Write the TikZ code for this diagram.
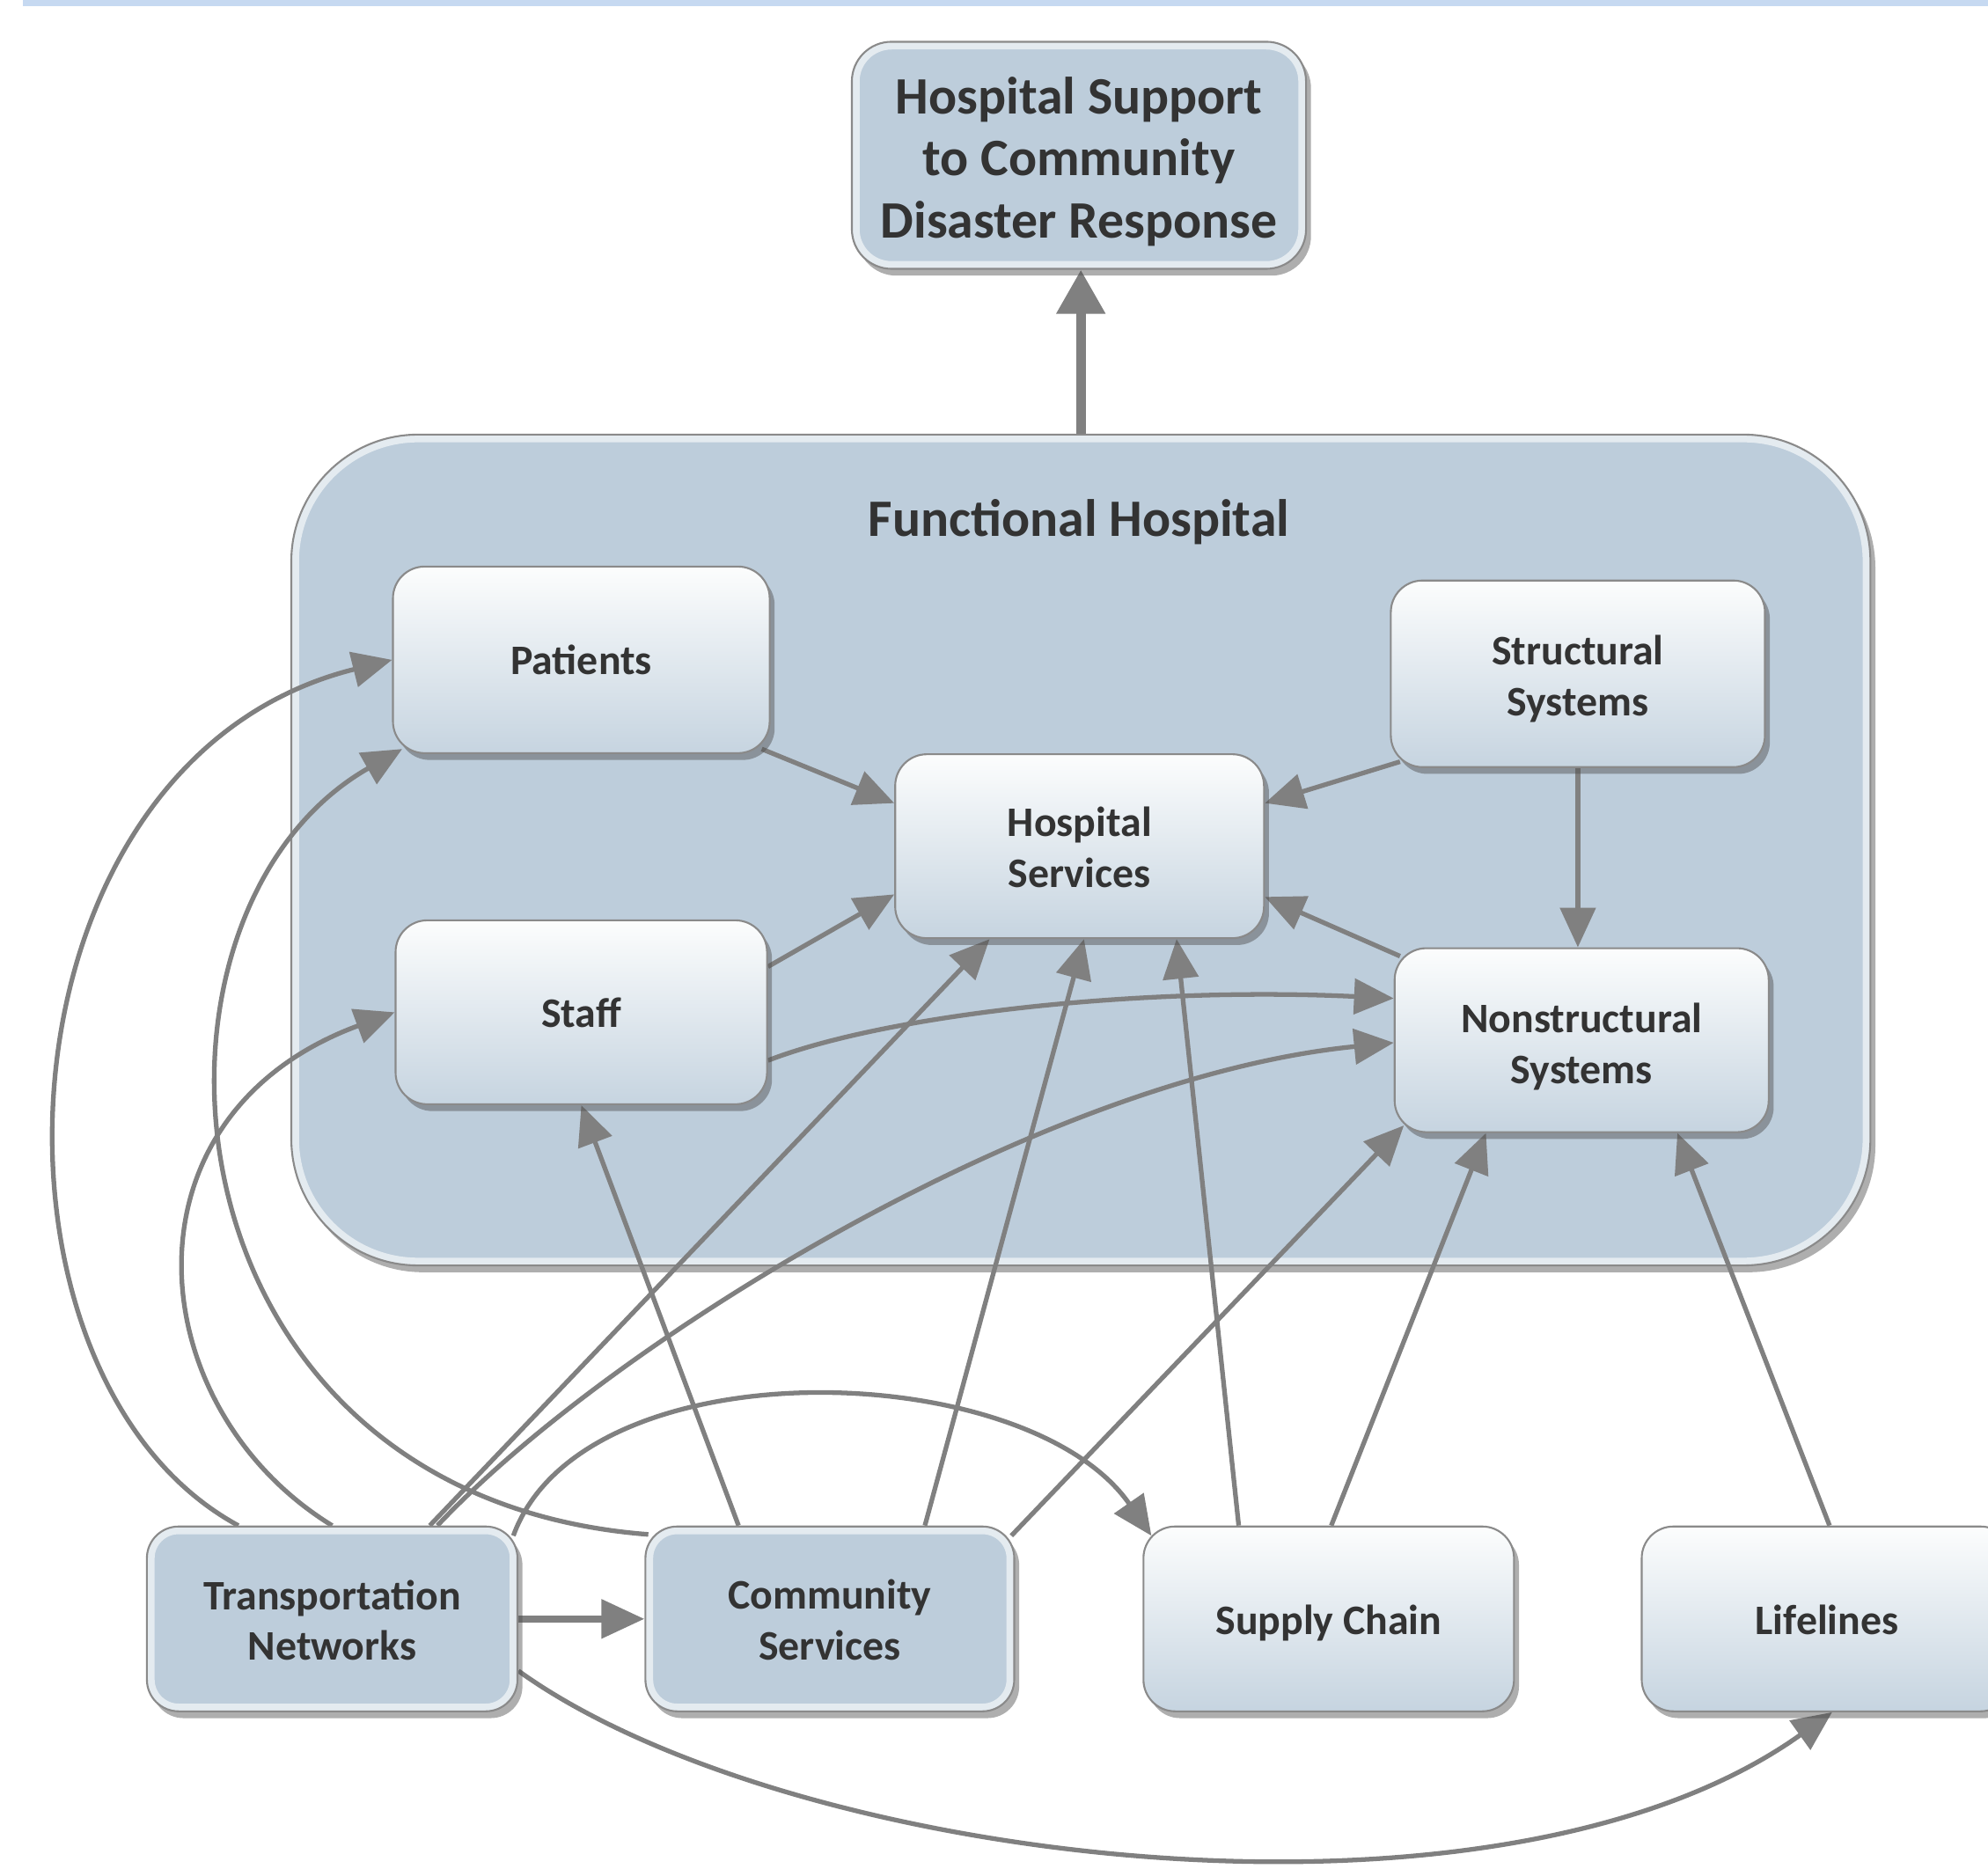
\documentclass[tikz,border=0pt]{standalone}
\usepackage{fontspec}
\setmainfont{Carlito}
\usetikzlibrary{arrows.meta,shadows,calc}
\pgfdeclarelayer{bg}
\pgfdeclarelayer{mid}
\pgfsetlayers{bg,mid,main}
\definecolor{band}{HTML}{C6D9F1}
\definecolor{hblue}{HTML}{BDCDDB}
\definecolor{bord}{HTML}{8A8A8A}
\definecolor{agray}{HTML}{808080}
\definecolor{txt}{HTML}{333333}
\definecolor{boxbot}{HTML}{C6D4E0}
\definecolor{boxtop}{HTML}{FCFDFD}
\begin{document}
\begin{tikzpicture}[x=0.014407cm,y=-0.014407cm,
  shad/.style={drop shadow={shadow xshift=1.6pt,shadow yshift=-2.2pt,opacity=0.45,fill=black!70}},
  glow/.style={path picture={\draw[white,opacity=0.6,line width=5pt,rounded corners=#1]
      (path picture bounding box.south west) rectangle (path picture bounding box.north east);}},
  basebox/.style={shad, draw=bord, line width=0.6pt, rounded corners=0.36cm, inner sep=0pt},
  wbox/.style={basebox, top color=boxtop, bottom color=boxbot},
  bbox/.style={basebox, fill=hblue, glow=0.36cm},
  lbl/.style={text=txt, align=center, inner sep=0pt, font=\fontsize{13.6}{16.4}\selectfont\bfseries},
  biglbl/.style={text=txt, align=center, inner sep=0pt, font=\fontsize{17}{20.1}\selectfont\bfseries},
  conn/.style={draw=agray, line width=1.5pt, -{Triangle[length=0.45cm,width=0.4cm]}},
  tcconn/.style={draw=agray, line width=2.3pt, -{Triangle[length=0.49cm,width=0.43cm]}},
  topconn/.style={draw=agray, line width=3.2pt, -{Triangle[length=0.5cm,width=0.53cm]}},
  ]
\useasboundingbox (0,0) rectangle (1568,1474);
\fill[band] (18,0) rectangle (1568,4.9);

% container
\begin{pgfonlayer}{bg}
\node[shad, draw=bord, line width=0.6pt, fill=hblue, rounded corners=1.44cm, minimum width=17.94cm, minimum height=9.44cm, inner sep=0pt, glow=1.44cm] (cont) at (852.5,670.5) {};
\end{pgfonlayer}
\node[biglbl] (fh) at (851,412) {Functional Hospital};

% top box
\node[basebox, fill=hblue, glow=0.45cm, rounded corners=0.45cm, minimum width=5.16cm, minimum height=2.58cm] (top) at (851,122.5) {};
\node[biglbl] (topL) at ($(top.center)+(0,5)$) {Hospital Support\\to Community\\Disaster Response};

% inner boxes
\node[wbox, minimum width=4.28cm, minimum height=2.12cm] (pat) at (458.5,520.5) {};
\node[wbox, minimum width=4.25cm, minimum height=2.12cm] (str) at (1244.5,531.5) {};
\node[wbox, minimum width=4.19cm, minimum height=2.09cm] (hs) at (851.5,667.5) {};
\node[wbox, minimum width=4.22cm, minimum height=2.09cm] (staff) at (458.5,798.5) {};
\node[wbox, minimum width=4.25cm, minimum height=2.09cm] (ns) at (1247.5,820.5) {};
\node[lbl] (patL) at (pat.center) {Patients};
\node[lbl] (strL) at ($(str.center)+(0,4)$) {Structural\\Systems};
\node[lbl] (hsL) at ($(hs.center)+(0,1)$) {Hospital\\Services};
\node[lbl] (staffL) at (staff.center) {Staff};
\node[lbl] (nsL) at ($(ns.center)+(0,5)$) {Nonstructural\\Systems};

% bottom row
\node[bbox, minimum width=4.21cm, minimum height=2.1cm] (tn) at (262,1277) {};
\node[bbox, minimum width=4.19cm, minimum height=2.1cm] (cs) at (654.5,1277) {};
\node[wbox, minimum width=4.21cm, minimum height=2.1cm] (sc) at (1048,1277) {};
\node[wbox, minimum width=4.21cm, minimum height=2.1cm] (lf) at (1441,1277) {};
\node[lbl] (tnL) at ($(tn.center)+(0,1)$) {Transportation\\Networks};
\node[lbl] (csL) at ($(cs.center)+(0,1)$) {Community\\Services};
\node[lbl] (scL) at ($(sc.center)+(0,3)$) {Supply Chain};
\node[lbl] (lfL) at ($(lf.center)+(0,1)$) {Lifelines};

\begin{pgfonlayer}{mid}
\draw[topconn] (cont.north) -- (cont.north |- top.south);
\draw[conn] ($(pat.south east)+(-7,-4)$) -- ($(hs.west)+(0,-34)$);
\draw[conn] ($(str.south west)+(8,-5)$) -- ($(hs.east)+(0,-34)$);
\draw[conn] (str.south) -- (str.south |- ns.north);
\draw[conn] ($(ns.north west)+(5,7)$) -- ($(hs.east)+(0,40)$);
\draw[conn] ($(staff.east)+(0,-36)$) -- ($(hs.west)+(0,38)$);
\draw[conn] ($(staff.east)+(0,38)$) .. controls (700,800) and (900,778) .. ($(ns.west)+(0,-33)$);
\draw[conn] ($(tn.north)+(83,0)$) .. controls (480,1060) and (820,850) .. ($(ns.west)+(0,2)$);
\draw[conn] ($(tn.north)+(77,0)$) -- ($(hs.south)+(-71,0)$);
\draw[conn] ($(tn.north)+(-74,0)$) .. controls (-30,1085) and (-10,600) .. (pat.west);
\draw[conn] (tn.north) .. controls (110,1110) and (90,880) .. (staff.west);
\draw[conn] ($(cs.north west)+(3,7)$) .. controls (120,1180) and (90,720) .. ($(pat.south west)+(8,-4)$);
\draw[conn] ($(tn.north east)+(-4,8)$) .. controls (460,1060) and (810,1070) .. ($(sc.north west)+(7,8)$);
\draw[tcconn] (tn.east) -- (cs.west);
\draw[conn] ($(tn.east)+(0,41)$) .. controls (620,1470) and (1180,1540) .. ($(lf.south)+(4,0)$);
\draw[conn] ($(cs.north)+(-72,0)$) -- (staff.south);
\draw[conn] ($(cs.north)+(75,0)$) -- ($(hs.south)+(3.5,0)$);
\draw[conn] ($(cs.north east)+(-3,8)$) -- ($(ns.south west)+(8,-6)$);
\draw[conn] ($(sc.north)+(-71,0)$) -- ($(hs.south)+(76.5,0)$);
\draw[conn] ($(sc.north)+(2,0)$) -- ($(ns.south)+(-75.5,0)$);
\draw[conn] ($(lf.north)+(2,0)$) -- ($(ns.south)+(75.5,0)$);
\end{pgfonlayer}
\end{tikzpicture}
\end{document}
